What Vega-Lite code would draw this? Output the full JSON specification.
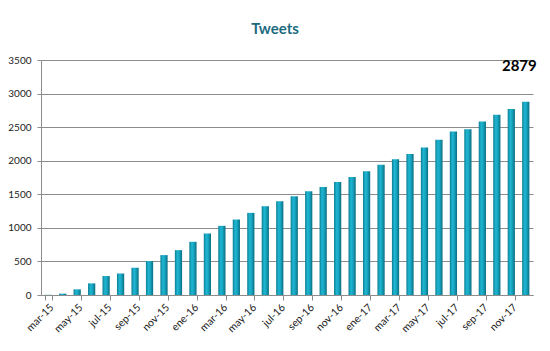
{
  "$schema": "https://vega.github.io/schema/vega-lite/v6.json",
  "autosize": {"type": "none"},
  "padding": {"left": 41, "top": 60, "right": 17, "bottom": 56},
  "width": 492,
  "height": 235,
  "background": "white",
  "title": {
    "text": "Tweets",
    "font": "Lato",
    "fontSize": 15,
    "fontWeight": "bold",
    "color": "#1B6B7E",
    "anchor": "middle",
    "dx": -12,
    "offset": 18
  },
  "config": {
    "view": {"stroke": null},
    "axis": {
      "labelFont": "Lato",
      "labelFontSize": 10,
      "labelColor": "#222222",
      "domainColor": "#8C8C8C",
      "tickColor": "#8C8C8C",
      "gridColor": "#8C8C8C",
      "gridOpacity": 1,
      "title": null
    },
    "axisY": {
      "values": [0, 500, 1000, 1500, 2000, 2500, 3000, 3500],
      "format": "d",
      "labelOverlap": false,
      "tickSize": 4,
      "labelPadding": 6,
      "grid": true
    }
  },
  "data": {
    "values": [
      {"mes": "mar-15", "tweets": 3},
      {"mes": "abr-15", "tweets": 20},
      {"mes": "may-15", "tweets": 84},
      {"mes": "jun-15", "tweets": 173},
      {"mes": "jul-15", "tweets": 282},
      {"mes": "ago-15", "tweets": 322},
      {"mes": "sep-15", "tweets": 406},
      {"mes": "oct-15", "tweets": 505},
      {"mes": "nov-15", "tweets": 594},
      {"mes": "dic-15", "tweets": 668},
      {"mes": "ene-16", "tweets": 792},
      {"mes": "feb-16", "tweets": 916},
      {"mes": "mar-16", "tweets": 1030},
      {"mes": "abr-16", "tweets": 1124},
      {"mes": "may-16", "tweets": 1223},
      {"mes": "jun-16", "tweets": 1322},
      {"mes": "jul-16", "tweets": 1396},
      {"mes": "ago-16", "tweets": 1470},
      {"mes": "sep-16", "tweets": 1545},
      {"mes": "oct-16", "tweets": 1609},
      {"mes": "nov-16", "tweets": 1683},
      {"mes": "dic-16", "tweets": 1757},
      {"mes": "ene-17", "tweets": 1842},
      {"mes": "feb-17", "tweets": 1941},
      {"mes": "mar-17", "tweets": 2020},
      {"mes": "abr-17", "tweets": 2099},
      {"mes": "may-17", "tweets": 2198},
      {"mes": "jun-17", "tweets": 2312},
      {"mes": "jul-17", "tweets": 2436},
      {"mes": "ago-17", "tweets": 2470},
      {"mes": "sep-17", "tweets": 2584},
      {"mes": "oct-17", "tweets": 2683},
      {"mes": "nov-17", "tweets": 2772},
      {"mes": "dic-17", "tweets": 2879}
    ]
  },
  "encoding": {
    "x": {
      "field": "mes",
      "type": "ordinal",
      "sort": null,
      "scale": {"paddingInner": 0.5, "paddingOuter": 0.25},
      "axis": {
        "values": ["mar-15","may-15","jul-15","sep-15","nov-15","ene-16","mar-16","may-16","jul-16","sep-16","nov-16","ene-17","mar-17","may-17","jul-17","sep-17","nov-17"],
        "labelAngle": -45,
        "labelAlign": "right",
        "labelBaseline": "top",
        "labelFontSize": 10.5,
        "labelOverlap": false,
        "tickBand": "extent",
        "tickSize": 5,
        "labelPadding": 2,
        "grid": false
      }
    }
  },
  "layer": [
    {
      "mark": {
        "type": "bar",
        "color": {
          "gradient": "linear",
          "x1": 0, "y1": 0, "x2": 1, "y2": 0,
          "stops": [
            {"offset": 0, "color": "#0C7E93"},
            {"offset": 0.35, "color": "#1FB6D2"},
            {"offset": 0.6, "color": "#17A6C2"},
            {"offset": 1, "color": "#0A6E81"}
          ]
        }
      },
      "encoding": {
        "y": {
          "field": "tweets",
          "type": "quantitative",
          "scale": {"domain": [0, 3500], "nice": false}
        }
      }
    },
    {
      "transform": [{"filter": "datum.mes === 'dic-17'"}],
      "mark": {
        "type": "text",
        "font": "Lato",
        "fontSize": 15,
        "fontWeight": "bold",
        "color": "#000000",
        "align": "right",
        "baseline": "alphabetic",
        "dx": 11
      },
      "encoding": {
        "y": {"datum": 3340, "type": "quantitative"},
        "text": {"field": "tweets", "type": "quantitative", "format": "d"}
      }
    }
  ]
}
